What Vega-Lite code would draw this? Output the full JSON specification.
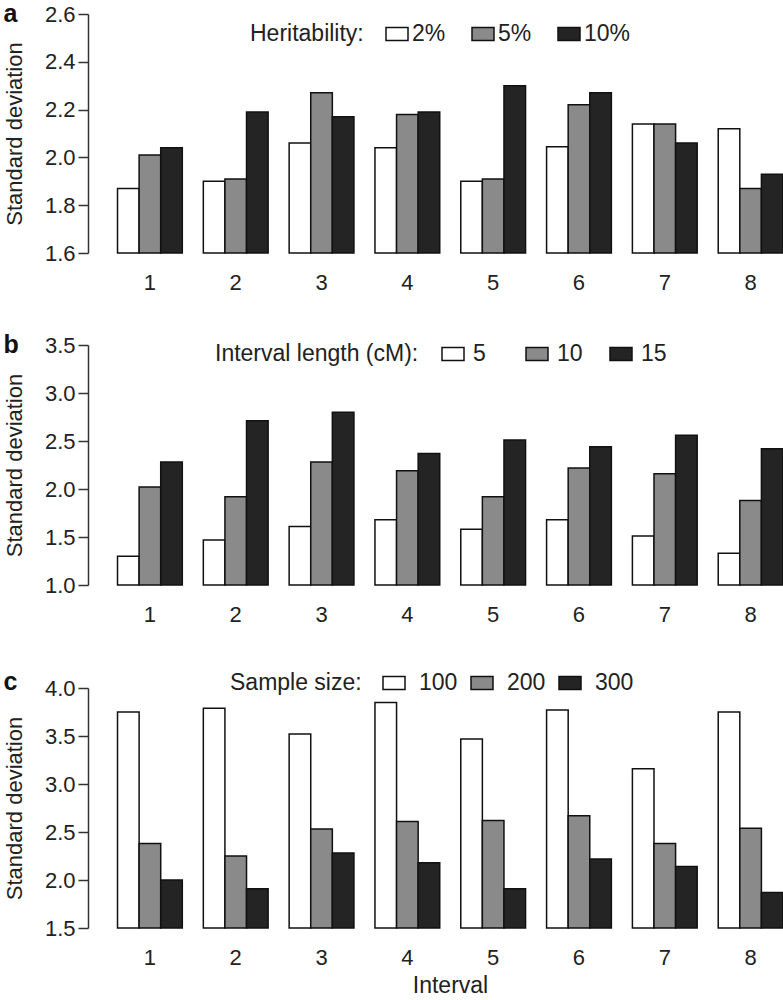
{
  "$schema": "https://vega.github.io/schema/vega-lite/v6.json",
  "padding": {"left": 3, "top": 2, "right": 0, "bottom": 0},
  "background": "white",
  "datasets": {
    "a": [
      {"interval": "1", "level": "2%", "sd": 1.87}, {"interval": "1", "level": "5%", "sd": 2.01}, {"interval": "1", "level": "10%", "sd": 2.04},
      {"interval": "2", "level": "2%", "sd": 1.90}, {"interval": "2", "level": "5%", "sd": 1.91}, {"interval": "2", "level": "10%", "sd": 2.19},
      {"interval": "3", "level": "2%", "sd": 2.06}, {"interval": "3", "level": "5%", "sd": 2.27}, {"interval": "3", "level": "10%", "sd": 2.17},
      {"interval": "4", "level": "2%", "sd": 2.04}, {"interval": "4", "level": "5%", "sd": 2.18}, {"interval": "4", "level": "10%", "sd": 2.19},
      {"interval": "5", "level": "2%", "sd": 1.90}, {"interval": "5", "level": "5%", "sd": 1.91}, {"interval": "5", "level": "10%", "sd": 2.30},
      {"interval": "6", "level": "2%", "sd": 2.045}, {"interval": "6", "level": "5%", "sd": 2.22}, {"interval": "6", "level": "10%", "sd": 2.27},
      {"interval": "7", "level": "2%", "sd": 2.14}, {"interval": "7", "level": "5%", "sd": 2.14}, {"interval": "7", "level": "10%", "sd": 2.06},
      {"interval": "8", "level": "2%", "sd": 2.12}, {"interval": "8", "level": "5%", "sd": 1.87}, {"interval": "8", "level": "10%", "sd": 1.93}
    ],
    "b": [
      {"interval": "1", "level": "5", "sd": 1.30}, {"interval": "1", "level": "10", "sd": 2.02}, {"interval": "1", "level": "15", "sd": 2.28},
      {"interval": "2", "level": "5", "sd": 1.47}, {"interval": "2", "level": "10", "sd": 1.92}, {"interval": "2", "level": "15", "sd": 2.71},
      {"interval": "3", "level": "5", "sd": 1.61}, {"interval": "3", "level": "10", "sd": 2.28}, {"interval": "3", "level": "15", "sd": 2.80},
      {"interval": "4", "level": "5", "sd": 1.68}, {"interval": "4", "level": "10", "sd": 2.19}, {"interval": "4", "level": "15", "sd": 2.37},
      {"interval": "5", "level": "5", "sd": 1.58}, {"interval": "5", "level": "10", "sd": 1.92}, {"interval": "5", "level": "15", "sd": 2.51},
      {"interval": "6", "level": "5", "sd": 1.68}, {"interval": "6", "level": "10", "sd": 2.22}, {"interval": "6", "level": "15", "sd": 2.44},
      {"interval": "7", "level": "5", "sd": 1.51}, {"interval": "7", "level": "10", "sd": 2.16}, {"interval": "7", "level": "15", "sd": 2.56},
      {"interval": "8", "level": "5", "sd": 1.33}, {"interval": "8", "level": "10", "sd": 1.88}, {"interval": "8", "level": "15", "sd": 2.42}
    ],
    "c": [
      {"interval": "1", "level": "100", "sd": 3.75}, {"interval": "1", "level": "200", "sd": 2.38}, {"interval": "1", "level": "300", "sd": 2.00},
      {"interval": "2", "level": "100", "sd": 3.79}, {"interval": "2", "level": "200", "sd": 2.25}, {"interval": "2", "level": "300", "sd": 1.91},
      {"interval": "3", "level": "100", "sd": 3.52}, {"interval": "3", "level": "200", "sd": 2.53}, {"interval": "3", "level": "300", "sd": 2.28},
      {"interval": "4", "level": "100", "sd": 3.85}, {"interval": "4", "level": "200", "sd": 2.61}, {"interval": "4", "level": "300", "sd": 2.18},
      {"interval": "5", "level": "100", "sd": 3.47}, {"interval": "5", "level": "200", "sd": 2.62}, {"interval": "5", "level": "300", "sd": 1.91},
      {"interval": "6", "level": "100", "sd": 3.77}, {"interval": "6", "level": "200", "sd": 2.67}, {"interval": "6", "level": "300", "sd": 2.22},
      {"interval": "7", "level": "100", "sd": 3.16}, {"interval": "7", "level": "200", "sd": 2.38}, {"interval": "7", "level": "300", "sd": 2.14},
      {"interval": "8", "level": "100", "sd": 3.75}, {"interval": "8", "level": "200", "sd": 2.54}, {"interval": "8", "level": "300", "sd": 1.87}
    ]
  },
  "spacing": 92,
  "bounds": "flush",
  "resolve": {"scale": {"fill": "independent", "y": "independent", "x": "independent", "xOffset": "independent"}, "legend": {"fill": "independent"}},
  "vconcat": [
    {
      "width": 695, "height": 239,
      "data": {"name": "a"},
      "title": {"text": "a", "anchor": "start", "frame": "bounds", "orient": "top", "offset": -24, "fontSize": 25, "fontWeight": "bold"},
      "mark": {"type": "bar", "stroke": "#111111", "strokeWidth": 1.5},
      "encoding": {
        "x": {"field": "interval", "type": "ordinal", "scale": {"paddingInner": 0.245, "paddingOuter": 0.172, "align": 1}, "axis": {"title": null, "labelAngle": 0, "domain": false, "ticks": false, "labelPadding": 19}},
        "xOffset": {"field": "level", "type": "nominal", "sort": ["2%", "5%", "10%"], "scale": {"paddingInner": 0, "paddingOuter": 0}},
        "y": {"field": "sd", "type": "quantitative", "scale": {"domain": [1.6, 2.6], "zero": false, "nice": false}, "axis": {"values": [1.6, 1.8, 2.0, 2.2, 2.4, 2.6], "format": ".1f", "title": "Standard deviation"}},
        "y2": {"datum": 1.6},
        "fill": {"field": "level", "type": "nominal", "scale": {"domain": ["2%", "5%", "10%"], "range": ["#ffffff", "#8a8a8a", "#242424"]},
          "legend": {"title": "Heritability:", "orient": "none", "legendX": 162, "legendY": 8, "direction": "horizontal", "titleOrient": "left", "titlePadding": 21, "labelOffset": 3, "columnPadding": 10, "gridAlign": "all"}}
      }
    },
    {
      "width": 695, "height": 240,
      "data": {"name": "b"},
      "title": {"text": "b", "anchor": "start", "frame": "bounds", "orient": "top", "offset": -24, "fontSize": 25, "fontWeight": "bold"},
      "mark": {"type": "bar", "stroke": "#111111", "strokeWidth": 1.5},
      "encoding": {
        "x": {"field": "interval", "type": "ordinal", "scale": {"paddingInner": 0.245, "paddingOuter": 0.172, "align": 1}, "axis": {"title": null, "labelAngle": 0, "domain": false, "ticks": false, "labelPadding": 19}},
        "xOffset": {"field": "level", "type": "nominal", "sort": ["5", "10", "15"], "scale": {"paddingInner": 0, "paddingOuter": 0}},
        "y": {"field": "sd", "type": "quantitative", "scale": {"domain": [1.0, 3.5], "zero": false, "nice": false}, "axis": {"values": [1.0, 1.5, 2.0, 2.5, 3.0, 3.5], "format": ".1f", "title": "Standard deviation"}},
        "y2": {"datum": 1.0},
        "fill": {"field": "level", "type": "nominal", "scale": {"domain": ["5", "10", "15"], "range": ["#ffffff", "#8a8a8a", "#242424"]},
          "legend": {"title": "Interval length (cM):", "orient": "none", "legendX": 127, "legendY": -3, "direction": "horizontal", "titleOrient": "left", "titlePadding": 22, "labelOffset": 8, "columnPadding": 24, "gridAlign": "all"}}
      }
    },
    {
      "width": 695, "height": 251,
      "data": {"name": "c"},
      "title": {"text": "c", "anchor": "start", "frame": "bounds", "orient": "top", "offset": -24, "fontSize": 25, "fontWeight": "bold"},
      "mark": {"type": "bar", "stroke": "#111111", "strokeWidth": 1.5},
      "encoding": {
        "x": {"field": "interval", "type": "ordinal", "scale": {"paddingInner": 0.245, "paddingOuter": 0.172, "align": 1}, "axis": {"title": "Interval", "titleX": 362, "titlePadding": 6, "labelAngle": 0, "domain": false, "ticks": false, "labelPadding": 19}},
        "xOffset": {"field": "level", "type": "nominal", "sort": ["100", "200", "300"], "scale": {"paddingInner": 0, "paddingOuter": 0}},
        "y": {"field": "sd", "type": "quantitative", "scale": {"domain": [1.5, 4.0], "zero": false, "nice": false, "range": [251, 11]}, "axis": {"values": [1.5, 2.0, 2.5, 3.0, 3.5, 4.0], "format": ".1f", "title": "Standard deviation"}},
        "y2": {"datum": 1.5},
        "fill": {"field": "level", "type": "nominal", "scale": {"domain": ["100", "200", "300"], "range": ["#ffffff", "#8a8a8a", "#242424"]},
          "legend": {"title": "Sample size:", "orient": "none", "legendX": 142, "legendY": -6, "direction": "horizontal", "titleOrient": "left", "titlePadding": 20, "labelOffset": 13, "columnPadding": 10, "gridAlign": "all"}}
      }
    }
  ],
  "config": {
    "font": "Liberation Sans",
    "view": {"stroke": null},
    "title": {"color": "#111111"},
    "axis": {"labelFontSize": 22, "labelColor": "#222222", "titleFontSize": 23, "titleFontWeight": "normal", "titleColor": "#222222", "domainColor": "#333333", "domainWidth": 1.5, "tickColor": "#333333", "tickWidth": 1.5, "grid": false},
    "axisY": {"tickSize": 10, "labelPadding": 3, "titlePadding": 18, "titleFontSize": 22},
    "legend": {"labelFontSize": 23, "titleFontSize": 23, "titleFontWeight": "normal", "labelColor": "#222222", "titleColor": "#222222", "titleLimit": 400, "labelLimit": 300, "symbolType": "M-1,-0.59H1V0.59H-1Z", "symbolSize": 484, "symbolStrokeColor": "#111111", "symbolStrokeWidth": 1.5, "titleBaseline": "middle"}
  }
}
